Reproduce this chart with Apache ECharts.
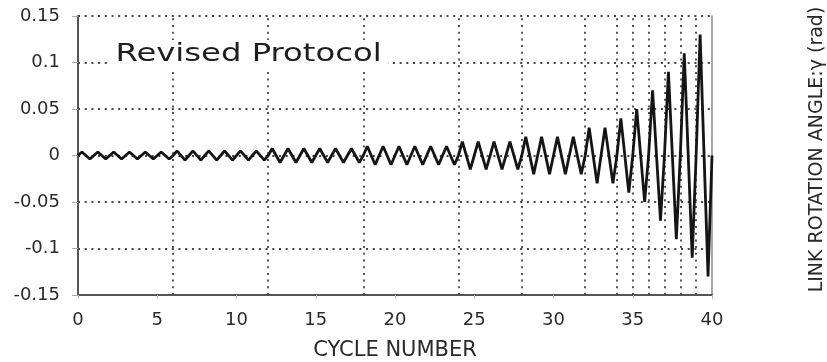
<!DOCTYPE html>
<html>
<head>
<meta charset="utf-8">
<script src="https://cdn.jsdelivr.net/npm/echarts@6/dist/echarts.min.js"></script>
<style>html,body{margin:0;padding:0;background:#fff;}#chart{width:827px;height:362px;}</style>
</head>
<body>
<div id="chart"></div>
<script>
// Peak rotation amplitude of each loading cycle (rad), cycles 1..40
const cycleAmplitudes = [
  0.00375,0.00375,0.00375,0.00375,0.00375,0.00375,
  0.005,0.005,0.005,0.005,0.005,0.005,
  0.0075,0.0075,0.0075,0.0075,0.0075,0.0075,
  0.01,0.01,0.01,0.01,0.01,0.01,
  0.015,0.015,0.015,0.015,
  0.02,0.02,0.02,0.02,
  0.03,0.03,
  0.04,
  0.05,
  0.07,
  0.09,
  0.11,
  0.13
];
// Cycle numbers where the amplitude steps change (vertical dotted lines)
const stepBoundaries = [6,12,18,24,28,32,34,35,36,37,38,39];
const xTicks = [0,5,10,15,20,25,30,35,40];
const yTicks = [-0.15,-0.1,-0.05,0,0.05,0.1,0.15];
const xTitle = 'CYCLE NUMBER';
const yTitle = 'LINK ROTATION ANGLE:γ (rad)';
const annotation = 'Revised Protocol';

// Build the history: each cycle goes 0 -> +amp -> -amp -> 0
const history = [];
cycleAmplitudes.forEach((a, i) => {
  history.push([i, 0]);
  history.push([i + 0.25, a]);
  history.push([i + 0.75, -a]);
});
history.push([cycleAmplitudes.length, 0]);

const FONT = '"DejaVu Sans", "Liberation Sans", sans-serif';
const chart = echarts.init(document.getElementById('chart'), null, {renderer: 'canvas'});
chart.setOption({
  animation: false,
  backgroundColor: '#fff',
  grid: {left: 78, right: 115, top: 16, bottom: 67, containLabel: false, outerBoundsMode: 'none'},
  graphic: [{
    type: 'text',
    x: 109,
    y: 40,
    scaleX: 1.29,
    z: 100,
    style: {
      text: annotation,
      font: '25px ' + FONT,
      fill: '#1e1e1e',
      backgroundColor: '#fff',
      padding: [2, 5],
      verticalAlign: 'top'
    }
  }],
  xAxis: {
    type: 'value',
    min: xTicks[0],
    max: xTicks[xTicks.length - 1],
    interval: xTicks[1] - xTicks[0],
    name: xTitle,
    nameLocation: 'middle',
    nameGap: 45,
    nameTextStyle: {fontFamily: FONT, fontSize: 21, color: '#2a2a2a'},
    axisLine: {show: true, onZero: false, lineStyle: {color: '#555', width: 2}},
    axisTick: {show: true, length: 4, lineStyle: {color: '#bbb', width: 1}},
    axisLabel: {fontFamily: FONT, fontSize: 18, color: '#2a2a2a', margin: 16},
    splitLine: {show: false}
  },
  yAxis: [{
    type: 'value',
    min: yTicks[0],
    max: yTicks[yTicks.length - 1],
    interval: 0.05,
    position: 'left',
    axisLine: {show: true, onZero: false, lineStyle: {color: '#555', width: 2}},
    axisTick: {show: true, length: 6, lineStyle: {color: '#aaa', width: 1}},
    axisLabel: {
      fontFamily: FONT, fontSize: 18, color: '#2a2a2a', margin: 18,
      formatter: v => String(+(+v).toFixed(2))
    },
    splitLine: {show: true, lineStyle: {color: '#444', width: 1.8, type: [2, 4.7]}}
  }, {
    type: 'value',
    min: yTicks[0],
    max: yTicks[yTicks.length - 1],
    interval: 0.05,
    position: 'right',
    name: yTitle,
    nameLocation: 'middle',
    nameRotate: 90,
    nameGap: 96,
    nameTextStyle: {fontFamily: FONT, fontSize: 19, color: '#2a2a2a', padding: [0, 0, 0, 12]},
    axisLine: {show: true, onZero: false, lineStyle: {color: '#888', width: 1.5}},
    axisTick: {show: false},
    axisLabel: {show: false},
    splitLine: {show: false}
  }],
  series: [{
    type: 'line',
    data: history,
    showSymbol: false,
    symbol: 'none',
    z: 5,
    lineStyle: {color: '#151515', width: 2.8},
    markLine: {
      silent: true,
      symbol: 'none',
      z: 1,
      label: {show: false},
      lineStyle: {color: '#444', width: 1.8, type: [2, 4.7]},
      data: stepBoundaries.map(c => ({xAxis: c}))
    }
  }]
});
</script>
</body>
</html>
